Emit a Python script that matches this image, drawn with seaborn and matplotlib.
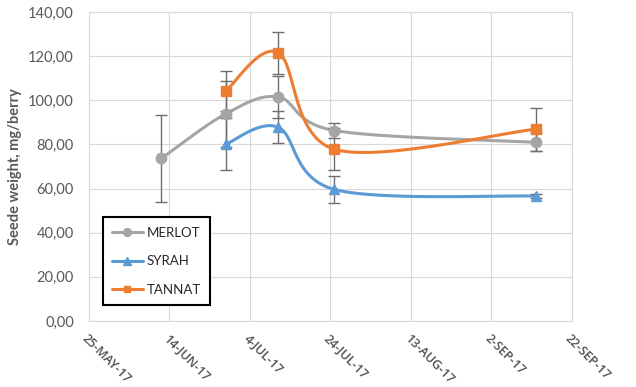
import numpy as np
import pandas as pd
import matplotlib
matplotlib.use("Agg")
import matplotlib.pyplot as plt
import matplotlib.dates as mdates
from matplotlib.lines import Line2D
from matplotlib.ticker import FuncFormatter
import seaborn as sns

# Seed weight (mg/berry), mean +/- error, per sampling date
merlot_dates = ['2017-06-12', '2017-06-28', '2017-07-11', '2017-07-25', '2017-09-13']
merlot_mean = [73.7, 93.9, 101.5, 86.3, 81.0]
merlot_err = [19.8, 15.0, 9.3, 3.3, 4.0]

syrah_dates = ['2017-06-28', '2017-07-11', '2017-07-25', '2017-09-13']
syrah_mean = [80.1, 87.8, 59.6, 56.6]
syrah_err = [11.7, 7.2, 6.0, 1.0]

tannat_dates = ['2017-06-28', '2017-07-11', '2017-07-25', '2017-09-13']
tannat_mean = [104.2, 121.6, 77.8, 86.9]
tannat_err = [9.2, 9.5, 9.5, 9.7]

tick_dates = ['2017-05-25', '2017-06-14', '2017-07-04', '2017-07-24',
              '2017-08-13', '2017-09-02', '2017-09-22']
tick_labels = ['25-MAY-17', '14-JUN-17', '4-JUL-17', '24-JUL-17',
               '13-AUG-17', '2-SEP-17', '22-SEP-17']


def smooth_curve(x, y, n=40):
    # Excel-like smoothed line (Catmull-Rom as cubic Bezier)
    x = np.asarray(x, float)
    y = np.asarray(y, float)
    px = np.r_[x[0], x, x[-1]]
    py = np.r_[y[0], y, y[-1]]
    t = np.linspace(0, 1, n)
    sx, sy = [], []
    for i in range(1, len(px) - 2):
        b0x, b0y = px[i], py[i]
        b3x, b3y = px[i + 1], py[i + 1]
        b1x = b0x + (px[i + 1] - px[i - 1]) / 6
        b1y = b0y + (py[i + 1] - py[i - 1]) / 6
        b2x = b3x - (px[i + 2] - px[i]) / 6
        b2y = b3y - (py[i + 2] - py[i]) / 6
        sx.append((1 - t)**3 * b0x + 3 * (1 - t)**2 * t * b1x + 3 * (1 - t) * t**2 * b2x + t**3 * b3x)
        sy.append((1 - t)**3 * b0y + 3 * (1 - t)**2 * t * b1y + 3 * (1 - t) * t**2 * b2y + t**3 * b3y)
    return np.concatenate(sx), np.concatenate(sy)


sns.set_theme(style="whitegrid")
plt.rcParams['font.family'] = ['Lato', 'DejaVu Sans']

fig = plt.figure(figsize=(6.36, 3.87), dpi=100)
ax = fig.add_axes([0.140, 0.1705, 0.759, 0.7985])

series = [
    ('MERLOT', merlot_dates, merlot_mean, merlot_err, '#A5A5A5', 'o', 7.5),
    ('SYRAH', syrah_dates, syrah_mean, syrah_err, '#5B9BD5', '^', 7.5),
    ('TANNAT', tannat_dates, tannat_mean, tannat_err, '#ED7D31', 's', 6.5),
]

handles = []
for name, dates, mean, err, col, mk, ms in series:
    xn = mdates.date2num(pd.to_datetime(dates))
    sx, sy = smooth_curve(xn, mean)
    sns.lineplot(x=sx, y=sy, sort=False, estimator=None, color=col, lw=2.2, ax=ax, zorder=3)
    ax.errorbar(xn, mean, yerr=err, fmt='none', ecolor='#6E6E6E', elinewidth=1.0,
                capsize=4, capthick=1.0, zorder=4)
    ax.plot(xn, mean, linestyle='none', marker=mk, ms=ms, color=col, mec=col, zorder=5)
    handles.append(Line2D([0], [0], color=col, lw=2.2, marker=mk, ms=ms * 0.75, label=name))

xt = mdates.date2num(pd.to_datetime(tick_dates))
ax.set_xlim(xt[0], xt[-1])
ax.set_ylim(0, 140)
ax.set_yticks(np.arange(0, 141, 20))
ax.yaxis.set_major_formatter(FuncFormatter(lambda v, p: f"{v:.2f}".replace('.', ',')))
ax.set_xticks(xt)
ax.set_xticklabels(tick_labels, rotation=-45, ha='left', va='top', rotation_mode='anchor',
                   fontsize=9, fontweight='semibold', color='#505050', family=['Open Sans', 'DejaVu Sans'])
ax.tick_params(axis='x', pad=8, length=0)
ax.tick_params(axis='y', labelsize=10.5, labelcolor='#595959', length=0, pad=11)

ax.grid(True, color='#D9D9D9', lw=0.8)
for s in ax.spines.values():
    s.set_color('#D9D9D9')
    s.set_linewidth(0.8)
ax.set_facecolor('white')

ax.set_ylabel('Seede weight, mg/berry', fontsize=10.5, fontweight='bold', color='#595959', labelpad=4)
ax.set_xlabel('')

leg = ax.legend(handles=handles, loc='lower left', bbox_to_anchor=(0.029, 0.052),
                borderaxespad=0, frameon=True, fancybox=False, fontsize=9.5,
                labelspacing=1.25, handlelength=2.3, borderpad=0.7, handletextpad=0.3)
leg.get_frame().set_edgecolor('black')
leg.get_frame().set_linewidth(1.5)
leg.get_frame().set_alpha(1)
for t in leg.get_texts():
    t.set_color('#262626')

fig.savefig('out.png', dpi=100)
